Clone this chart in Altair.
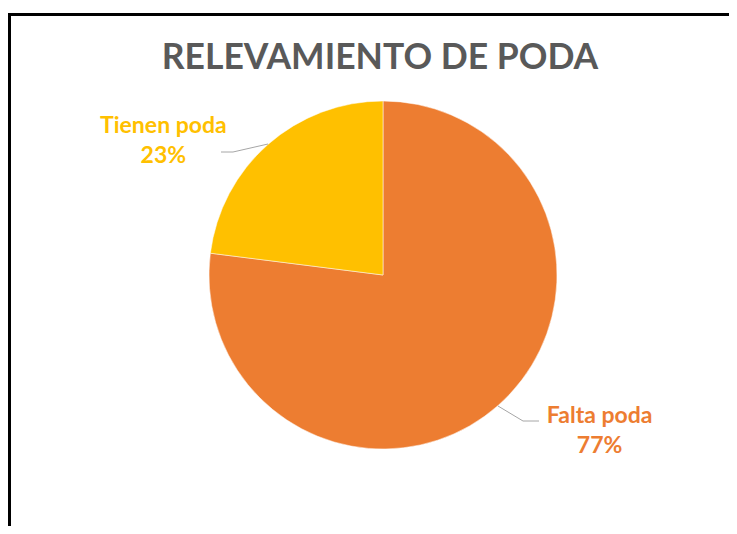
import altair as alt
import pandas as pd

title_text = "RELEVAMIENTO DE PODA"
categories = ["Falta poda", "Tienen poda"]
values = [77, 23]
pct_labels = ["77%", "23%"]
colors = ["#ED7D31", "#FFC000"]
order = [0, 1]

df = pd.DataFrame({
    "cat": categories,
    "val": values,
    "pct": pct_labels,
    "ord": order,
})

W, H = 721, 518
CX, CY, R = 375, 267, 174
FONT = "Lato"

base = alt.Chart(df)

theta = alt.Theta("val:Q", stack=True)
color = alt.Color("cat:N", scale=alt.Scale(domain=categories, range=colors), legend=None)

shadow = alt.Chart(pd.DataFrame({"s": [1]})).mark_circle(
    color="#bfbfbf", opacity=0.35
).encode(x=alt.value(CX), y=alt.value(CY + 3), size=alt.value(3.14159 * (R + 2) ** 2))

pie = base.mark_arc(outerRadius=R, stroke="white", strokeWidth=0.5).encode(
    theta=theta,
    color=color,
    order=alt.Order("ord:Q"),
    x=alt.value(CX),
    y=alt.value(CY),
)

def label_layer(cat, dx, dy):
    name = base.mark_text(
        font=FONT, fontSize=23, fontWeight="bold", radius=255, dx=dx, dy=dy - 15,
        align="center", baseline="middle",
    ).encode(
        theta=theta, order=alt.Order("ord:Q"), text="cat:N", color=color,
        x=alt.value(CX), y=alt.value(CY),
        opacity=alt.condition(alt.datum.cat == cat, alt.value(1), alt.value(0)),
    )
    pct = base.mark_text(
        font=FONT, fontSize=23, fontWeight="bold", radius=255, dx=dx, dy=dy + 15,
        align="center", baseline="middle",
    ).encode(
        theta=theta, order=alt.Order("ord:Q"), text="pct:N", color=color,
        x=alt.value(CX), y=alt.value(CY),
        opacity=alt.condition(alt.datum.cat == cat, alt.value(1), alt.value(0)),
    )
    return name + pct

# Falta poda mid angle ~138.6 deg, Tienen ~318.6 deg
falta = label_layer("Falta poda", 48, -35)
tienen = label_layer("Tienen poda", -51, 57)

leader_color = "#A6A6A6"
one = alt.Chart(pd.DataFrame({"s": [1]}))
leaders = (
    one.mark_rule(color=leader_color, strokeWidth=1).encode(
        x=alt.value(213), y=alt.value(144), x2=alt.value(225), y2=alt.value(144))
    + one.mark_rule(color=leader_color, strokeWidth=1).encode(
        x=alt.value(225), y=alt.value(144), x2=alt.value(260), y2=alt.value(136))
    + one.mark_rule(color=leader_color, strokeWidth=1).encode(
        x=alt.value(490), y=alt.value(398), x2=alt.value(515), y2=alt.value(413))
    + one.mark_rule(color=leader_color, strokeWidth=1).encode(
        x=alt.value(515), y=alt.value(413), x2=alt.value(531), y2=alt.value(413))
)

title = alt.Chart(pd.DataFrame({"t": [title_text]})).mark_text(
    font=FONT, fontSize=35.5, fontWeight="bold", color="#595959",
    align="center", baseline="middle",
).encode(text="t:N", x=alt.value(372), y=alt.value(50))

border = (
    one.mark_rule(color="black", strokeWidth=3).encode(
        x=alt.value(1.5), y=alt.value(5), x2=alt.value(1.5), y2=alt.value(H))
    + one.mark_rule(color="black", strokeWidth=3).encode(
        x=alt.value(0), y=alt.value(6.5), x2=alt.value(W), y2=alt.value(6.5))
)

chart = alt.layer(shadow, pie, falta, tienen, leaders, title, border).properties(
    width=W, height=H, padding=0, autosize=alt.AutoSizeParams(type="none"),
    background="white",
).configure_view(stroke=None)

chart.save("out.html", embed_options={"renderer": "svg", "actions": False})
